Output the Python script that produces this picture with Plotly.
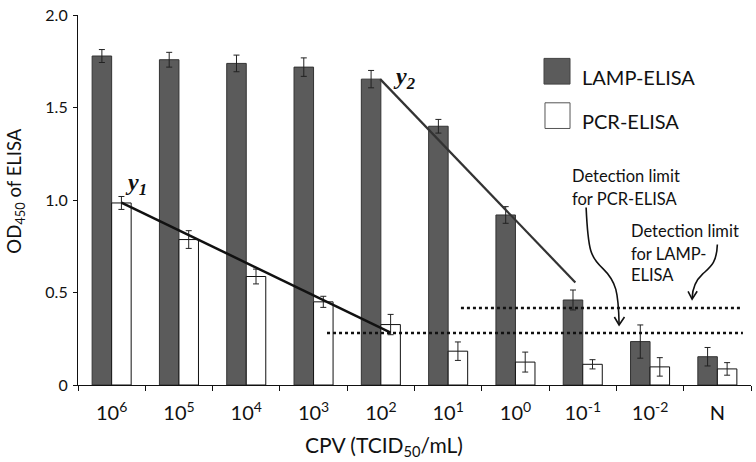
import plotly.graph_objects as go

categories = ["10<sup>6</sup>", "10<sup>5</sup>", "10<sup>4</sup>", "10<sup>3</sup>", "10<sup>2</sup>",
              "10<sup>1</sup>", "10<sup>0</sup>", "10<sup>-1</sup>", "10<sup>-2</sup>", "N"]
lamp_values = [1.78, 1.76, 1.74, 1.72, 1.655, 1.40, 0.92, 0.46, 0.235, 0.153]
lamp_errors = [0.035, 0.04, 0.045, 0.05, 0.047, 0.037, 0.045, 0.054, 0.09, 0.05]
pcr_values = [0.985, 0.787, 0.587, 0.45, 0.327, 0.183, 0.124, 0.112, 0.098, 0.087]
pcr_errors = [0.035, 0.048, 0.04, 0.03, 0.055, 0.05, 0.054, 0.025, 0.05, 0.034]

# regression lines (category index units, OD)
y1_x = [0.145, 4.145]
y1_y = [0.987, 0.284]
y2_x = [3.99, 6.89]
y2_y = [1.655, 0.555]

# detection limits
pcr_limit = 0.281
pcr_limit_span = [3.2, 9.38]
lamp_limit = 0.416
lamp_limit_span = [5.19, 9.38]

y_ticks = [0, 0.5, 1.0, 1.5, 2.0]
y_tick_text = ["0", "0.5", "1.0", "1.5", "2.0"]

FONT = "Lato"
xs = list(range(len(categories)))

fig = go.Figure()
fig.add_trace(go.Bar(
    x=xs, y=lamp_values, name="LAMP-ELISA",
    marker=dict(color="#5b5b5b", line=dict(color="#333333", width=1)),
    error_y=dict(type="data", array=lamp_errors, color="#222222", thickness=1, width=3),
))
fig.add_trace(go.Bar(
    x=xs, y=pcr_values, name="PCR-ELISA",
    marker=dict(color="white", line=dict(color="#111111", width=1)),
    error_y=dict(type="data", array=pcr_errors, color="#222222", thickness=1, width=3),
))
fig.add_trace(go.Scatter(x=y1_x, y=y1_y, mode="lines",
                         line=dict(color="#111111", width=2.5), hoverinfo="skip"))
fig.add_trace(go.Scatter(x=y2_x, y=y2_y, mode="lines",
                         line=dict(color="#333333", width=2.2), hoverinfo="skip"))
fig.add_trace(go.Scatter(x=pcr_limit_span, y=[pcr_limit, pcr_limit], mode="lines",
                         line=dict(color="#111111", width=2.5, dash="dot"), hoverinfo="skip"))
fig.add_trace(go.Scatter(x=lamp_limit_span, y=[lamp_limit, lamp_limit], mode="lines",
                         line=dict(color="#111111", width=2.5, dash="dot"), hoverinfo="skip"))

shapes = []
# legend keys
shapes.append(dict(type="rect", xref="paper", yref="paper", x0=0.6924, x1=0.7311, y0=0.8133, y1=0.8827,
                   fillcolor="#5b5b5b", line=dict(color="#444444", width=1)))
shapes.append(dict(type="rect", xref="paper", yref="paper", x0=0.6939, x1=0.7311, y0=0.6933, y1=0.7627,
                   fillcolor="white", line=dict(color="#555555", width=1)))
# curved arrows
shapes.append(dict(type="path", xref="x", yref="y",
                   path="M 7.05,0.96 C 7.08,0.72 7.12,0.69 7.3,0.63 C 7.5,0.56 7.53,0.5 7.54,0.33",
                   line=dict(color="#111111", width=1.6)))
shapes.append(dict(type="path", xref="x", yref="y",
                   path="M 7.47,0.368 L 7.54,0.325 L 7.62,0.368",
                   line=dict(color="#111111", width=1.6)))
shapes.append(dict(type="path", xref="x", yref="y",
                   path="M 9.0,0.76 C 8.99,0.66 8.9,0.64 8.78,0.6 C 8.66,0.56 8.63,0.52 8.625,0.47",
                   line=dict(color="#111111", width=1.6)))
shapes.append(dict(type="path", xref="x", yref="y",
                   path="M 8.565,0.507 L 8.625,0.464 L 8.70,0.507",
                   line=dict(color="#111111", width=1.6)))

ann = []
ann.append(dict(xref="paper", yref="paper", x=0.7459, y=0.832, text="LAMP-ELISA", showarrow=False,
                xanchor="left", yanchor="middle", font=dict(family=FONT, size=20, color="#111111")))
ann.append(dict(xref="paper", yref="paper", x=0.7459, y=0.7147, text="PCR-ELISA", showarrow=False,
                xanchor="left", yanchor="middle", font=dict(family=FONT, size=20, color="#111111")))
det_font = dict(family=FONT, size=16.5, color="#111111")
for txt, py in [("Detection limit", 173), ("for PCR-ELISA", 196)]:
    ann.append(dict(xref="paper", yref="paper", x=(570 - 78) / 673, y=(385 - py) / 375, text=txt,
                    showarrow=False, xanchor="left", yanchor="middle", font=det_font))
for txt, py in [("Detection limit", 229), ("for LAMP-", 252), ("ELISA", 274)]:
    ann.append(dict(xref="paper", yref="paper", x=(629 - 78) / 673, y=(385 - py) / 375, text=txt,
                    showarrow=False, xanchor="left", yanchor="middle", font=det_font))
lab_font = dict(family="Liberation Serif", size=24, color="#111111")
ann.append(dict(xref="x", yref="y", x=0.36, y=1.085, text="<b><i>y</i></b><sub><b><i>1</i></b></sub>",
                showarrow=False, font=lab_font))
ann.append(dict(xref="x", yref="y", x=4.35, y=1.66, text="<b><i>y</i></b><sub><b><i>2</i></b></sub>",
                showarrow=False, font=lab_font))
ann.append(dict(xref="paper", yref="paper", x=(384 - 78) / 673, y=(385 - 447) / 375,
                text="CPV (TCID<sub>50</sub>/mL)", showarrow=False, xanchor="center", yanchor="middle",
                font=dict(family=FONT, size=21, color="#111111")))
ann.append(dict(xref="paper", yref="paper", x=(16 - 78) / 673, y=(385 - 188) / 375,
                text="OD<sub>450</sub> of ELISA", showarrow=False, textangle=-90,
                xanchor="center", yanchor="middle",
                font=dict(family=FONT, size=18.5, color="#111111")))

fig.update_layout(
    width=756, height=462,
    margin=dict(l=78, r=5, t=10, b=77),
    plot_bgcolor="white", paper_bgcolor="white",
    barmode="group", bargap=0.42, bargroupgap=0,
    showlegend=False,
    shapes=shapes, annotations=ann,
    font=dict(family=FONT, color="#111111"),
    xaxis=dict(range=[-0.5, 9.5], tickmode="array", tickvals=xs, ticktext=categories,
               ticks="", showgrid=False, zeroline=False,
               showline=True, linecolor="#111111", linewidth=1.2,
               ticklabelstandoff=10,
               tickfont=dict(family=FONT, size=20, color="#111111"),
               minor=dict(tick0=0.5, dtick=1, ticks="outside", ticklen=5, tickcolor="#111111",
                          tickwidth=1, showgrid=False)),
    yaxis=dict(range=[0, 2.002], tickmode="array", tickvals=y_ticks, ticktext=y_tick_text,
               ticks="outside", ticklen=4, tickcolor="#111111", showgrid=False, zeroline=False,
               showline=True, linecolor="#111111", linewidth=1.2,
               ticklabeloverflow="allow", ticklabelstandoff=2,
               tickfont=dict(family=FONT, size=16, color="#111111")),
)

fig.write_html("out.html", config={"displayModeBar": False},
               post_script="document.body.style.margin='0';document.body.style.overflow='hidden';")
